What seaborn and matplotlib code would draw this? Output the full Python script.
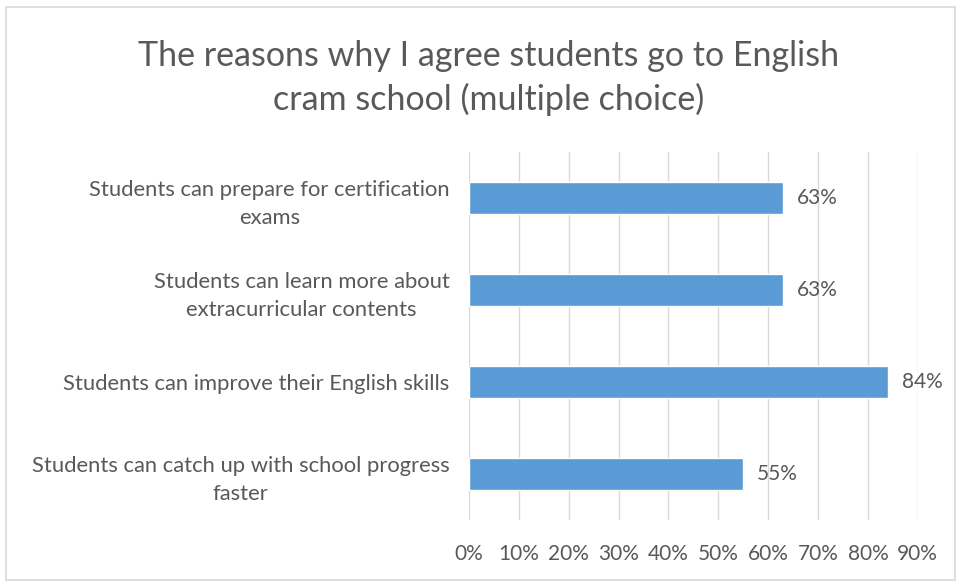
import matplotlib
matplotlib.use("Agg")
import matplotlib.pyplot as plt
from matplotlib.patches import Rectangle
from matplotlib.ticker import PercentFormatter
import seaborn as sns
import pandas as pd

reasons = [
    "Students can prepare for certification\nexams",
    "Students can learn more about\nextracurricular contents",
    "Students can improve their English skills",
    "Students can catch up with school progress\nfaster",
]
shares = [0.63, 0.63, 0.84, 0.55]
share_labels = ["63%", "63%", "84%", "55%"]
x_ticks = [0.0, 0.1, 0.2, 0.3, 0.4, 0.5, 0.6, 0.7, 0.8, 0.9]

df = pd.DataFrame({"reason": reasons, "share": shares})

sns.set_theme(style="white")
plt.rcParams["font.family"] = ["Lato", "DejaVu Sans"]

text_color = "#595959"
bar_color = "#5B9BD5"
grid_color = "#D9D9D9"

fig = plt.figure(figsize=(9.59, 5.83), dpi=100)
fig.patch.set_facecolor("white")
ax = fig.add_axes([0.489, 0.108, 0.468, 0.631])

sns.barplot(data=df, x="share", y="reason", color=bar_color, width=0.35,
            saturation=1, ax=ax, zorder=3)

ax.set_xlim(0, 0.9)
ax.set_ylim(3.5, -0.5)
ax.set_xticks(x_ticks)
ax.xaxis.set_major_formatter(PercentFormatter(1.0, decimals=0))
ax.grid(axis="x", color=grid_color, linewidth=1.0, zorder=0)
ax.grid(axis="y", visible=False)
for side in ["top", "right", "bottom", "left"]:
    ax.spines[side].set_visible(False)
ax.set_xlabel("")
ax.set_ylabel("")
ax.tick_params(axis="x", colors=text_color, labelsize=15, length=0, pad=17)
ax.tick_params(axis="y", colors=text_color, labelsize=15.8, length=0, pad=14)
for lbl in ax.get_yticklabels():
    lbl.set_multialignment("center")
    lbl.set_linespacing(1.5)
    lbl.set_y(lbl.get_position()[1])

for i, (v, t) in enumerate(zip(shares, share_labels)):
    ax.text(v + 0.028, i, t, va="center", ha="left", fontsize=15,
            color=text_color, zorder=4)

fig.text(0.509, 0.866, "The reasons why I agree students go to English\ncram school (multiple choice)",
         ha="center", va="center", fontsize=24.5, color=text_color, linespacing=1.40)

fig.patches.append(Rectangle((0.006, 0.005), 0.99, 0.983, transform=fig.transFigure,
                             fill=False, edgecolor="#D9D9D9", linewidth=1.2))

fig.savefig("out.png", dpi=100, facecolor="white")
